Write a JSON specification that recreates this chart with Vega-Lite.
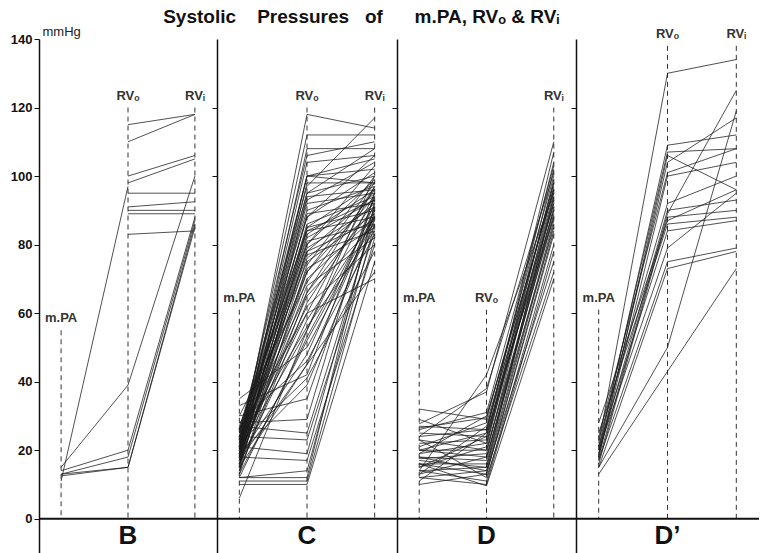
{
"$schema":"https://vega.github.io/schema/vega-lite/v6.json",
"background":"white",
"padding":{"left":10,"top":8,"right":0,"bottom":0},
"title":{"text":"Systolic\u00a0\u00a0\u00a0 Pressures\u00a0\u00a0 of\u00a0\u00a0\u00a0\u00a0\u00a0 m.PA, RV\u2092 & RV\u1d62","font":"Liberation Sans","fontSize":19,"fontWeight":"bold","color":"#111","anchor":"middle","offset":-2,"dx":-24},
"datasets":{
"guides":[
{"panel":"B","pos":"mPA","top":55,"label":"m.PA"},{"panel":"B","pos":"RVo","top":120,"label":"RV\u2092"},{"panel":"B","pos":"RVi","top":120,"label":"RV\u1d62"},
{"panel":"C","pos":"mPA","top":61,"label":"m.PA"},{"panel":"C","pos":"RVo","top":120,"label":"RV\u2092"},{"panel":"C","pos":"RVi","top":120,"label":"RV\u1d62"},
{"panel":"D","pos":"mPA","top":61,"label":"m.PA"},{"panel":"D","pos":"RVo","top":61,"label":"RV\u2092"},{"panel":"D","pos":"RVi","top":120,"label":"RV\u1d62"},
{"panel":"D'","pos":"mPA","top":61,"label":"m.PA"},{"panel":"D'","pos":"RVo","top":138,"label":"RV\u2092"},{"panel":"D'","pos":"RVi","top":138,"label":"RV\u1d62"}
],
"lines":[
{"panel":"B","id":"b1","pos":"RVo","value":115},{"panel":"B","id":"b1","pos":"RVi","value":118},
{"panel":"B","id":"b2","pos":"RVo","value":110},{"panel":"B","id":"b2","pos":"RVi","value":118},
{"panel":"B","id":"b3","pos":"RVo","value":100},{"panel":"B","id":"b3","pos":"RVi","value":106},
{"panel":"B","id":"b4","pos":"RVo","value":98},{"panel":"B","id":"b4","pos":"RVi","value":105},
{"panel":"B","id":"b5","pos":"mPA","value":11},{"panel":"B","id":"b5","pos":"RVo","value":97},
{"panel":"B","id":"b6","pos":"RVo","value":95},{"panel":"B","id":"b6","pos":"RVi","value":95},
{"panel":"B","id":"b7","pos":"RVo","value":91},{"panel":"B","id":"b7","pos":"RVi","value":92.5},
{"panel":"B","id":"b8","pos":"RVo","value":90},{"panel":"B","id":"b8","pos":"RVi","value":90},
{"panel":"B","id":"b9","pos":"RVo","value":89},{"panel":"B","id":"b9","pos":"RVi","value":89},
{"panel":"B","id":"b10","pos":"RVo","value":83},{"panel":"B","id":"b10","pos":"RVi","value":84},
{"panel":"B","id":"b11","pos":"mPA","value":15},{"panel":"B","id":"b11","pos":"RVo","value":39},{"panel":"B","id":"b11","pos":"RVi","value":100},
{"panel":"B","id":"b12","pos":"mPA","value":14},{"panel":"B","id":"b12","pos":"RVo","value":20},{"panel":"B","id":"b12","pos":"RVi","value":88},
{"panel":"B","id":"b13","pos":"mPA","value":13},{"panel":"B","id":"b13","pos":"RVo","value":18},{"panel":"B","id":"b13","pos":"RVi","value":87},
{"panel":"B","id":"b14","pos":"mPA","value":13},{"panel":"B","id":"b14","pos":"RVo","value":15},{"panel":"B","id":"b14","pos":"RVi","value":86},
{"panel":"B","id":"b15","pos":"mPA","value":12.5},{"panel":"B","id":"b15","pos":"RVo","value":15},{"panel":"B","id":"b15","pos":"RVi","value":85},

{"panel":"C","id":"c1","pos":"mPA","value":20},{"panel":"C","id":"c1","pos":"RVo","value":118},{"panel":"C","id":"c1","pos":"RVi","value":114},
{"panel":"C","id":"c2","pos":"mPA","value":22},{"panel":"C","id":"c2","pos":"RVo","value":112},{"panel":"C","id":"c2","pos":"RVi","value":112},
{"panel":"C","id":"c3","pos":"mPA","value":19},{"panel":"C","id":"c3","pos":"RVo","value":108},{"panel":"C","id":"c3","pos":"RVi","value":108},
{"panel":"C","id":"c4","pos":"mPA","value":24},{"panel":"C","id":"c4","pos":"RVo","value":106},{"panel":"C","id":"c4","pos":"RVi","value":110},
{"panel":"C","id":"c5","pos":"mPA","value":21},{"panel":"C","id":"c5","pos":"RVo","value":104},{"panel":"C","id":"c5","pos":"RVi","value":106},
{"panel":"C","id":"c6","pos":"mPA","value":18},{"panel":"C","id":"c6","pos":"RVo","value":100},{"panel":"C","id":"c6","pos":"RVi","value":102},
{"panel":"C","id":"c7","pos":"mPA","value":23},{"panel":"C","id":"c7","pos":"RVo","value":100},{"panel":"C","id":"c7","pos":"RVi","value":98},
{"panel":"C","id":"c8","pos":"mPA","value":17},{"panel":"C","id":"c8","pos":"RVo","value":98},{"panel":"C","id":"c8","pos":"RVi","value":98},
{"panel":"C","id":"c9","pos":"mPA","value":26},{"panel":"C","id":"c9","pos":"RVo","value":97},{"panel":"C","id":"c9","pos":"RVi","value":117},
{"panel":"C","id":"c10","pos":"mPA","value":20},{"panel":"C","id":"c10","pos":"RVo","value":95},{"panel":"C","id":"c10","pos":"RVi","value":100},
{"panel":"C","id":"c11","pos":"mPA","value":15},{"panel":"C","id":"c11","pos":"RVo","value":94},{"panel":"C","id":"c11","pos":"RVi","value":96},
{"panel":"C","id":"c12","pos":"mPA","value":22},{"panel":"C","id":"c12","pos":"RVo","value":93},{"panel":"C","id":"c12","pos":"RVi","value":104},
{"panel":"C","id":"c13","pos":"mPA","value":19},{"panel":"C","id":"c13","pos":"RVo","value":92},{"panel":"C","id":"c13","pos":"RVi","value":95},
{"panel":"C","id":"c14","pos":"mPA","value":25},{"panel":"C","id":"c14","pos":"RVo","value":90},{"panel":"C","id":"c14","pos":"RVi","value":97},
{"panel":"C","id":"c15","pos":"mPA","value":16},{"panel":"C","id":"c15","pos":"RVo","value":89},{"panel":"C","id":"c15","pos":"RVi","value":92},
{"panel":"C","id":"c16","pos":"mPA","value":21},{"panel":"C","id":"c16","pos":"RVo","value":88},{"panel":"C","id":"c16","pos":"RVi","value":101},
{"panel":"C","id":"c17","pos":"mPA","value":18},{"panel":"C","id":"c17","pos":"RVo","value":86},{"panel":"C","id":"c17","pos":"RVi","value":94},
{"panel":"C","id":"c18","pos":"mPA","value":24},{"panel":"C","id":"c18","pos":"RVo","value":85},{"panel":"C","id":"c18","pos":"RVi","value":90},
{"panel":"C","id":"c19","pos":"mPA","value":14},{"panel":"C","id":"c19","pos":"RVo","value":85},{"panel":"C","id":"c19","pos":"RVi","value":98},
{"panel":"C","id":"c20","pos":"mPA","value":20},{"panel":"C","id":"c20","pos":"RVo","value":84},{"panel":"C","id":"c20","pos":"RVi","value":88},
{"panel":"C","id":"c21","pos":"mPA","value":17},{"panel":"C","id":"c21","pos":"RVo","value":83},{"panel":"C","id":"c21","pos":"RVi","value":96},
{"panel":"C","id":"c22","pos":"mPA","value":22},{"panel":"C","id":"c22","pos":"RVo","value":82},{"panel":"C","id":"c22","pos":"RVi","value":93},
{"panel":"C","id":"c23","pos":"mPA","value":19},{"panel":"C","id":"c23","pos":"RVo","value":81},{"panel":"C","id":"c23","pos":"RVi","value":86},
{"panel":"C","id":"c24","pos":"mPA","value":27},{"panel":"C","id":"c24","pos":"RVo","value":80},{"panel":"C","id":"c24","pos":"RVi","value":99},
{"panel":"C","id":"c25","pos":"mPA","value":15},{"panel":"C","id":"c25","pos":"RVo","value":79},{"panel":"C","id":"c25","pos":"RVi","value":91},
{"panel":"C","id":"c26","pos":"mPA","value":23},{"panel":"C","id":"c26","pos":"RVo","value":78},{"panel":"C","id":"c26","pos":"RVi","value":87},
{"panel":"C","id":"c27","pos":"mPA","value":18},{"panel":"C","id":"c27","pos":"RVo","value":78},{"panel":"C","id":"c27","pos":"RVi","value":95},
{"panel":"C","id":"c28","pos":"mPA","value":21},{"panel":"C","id":"c28","pos":"RVo","value":77},{"panel":"C","id":"c28","pos":"RVi","value":84},
{"panel":"C","id":"c29","pos":"mPA","value":16},{"panel":"C","id":"c29","pos":"RVo","value":76},{"panel":"C","id":"c29","pos":"RVi","value":92},
{"panel":"C","id":"c30","pos":"mPA","value":25},{"panel":"C","id":"c30","pos":"RVo","value":75},{"panel":"C","id":"c30","pos":"RVi","value":89},
{"panel":"C","id":"c31","pos":"mPA","value":13},{"panel":"C","id":"c31","pos":"RVo","value":74},{"panel":"C","id":"c31","pos":"RVi","value":100},
{"panel":"C","id":"c32","pos":"mPA","value":20},{"panel":"C","id":"c32","pos":"RVo","value":73},{"panel":"C","id":"c32","pos":"RVi","value":85},
{"panel":"C","id":"c33","pos":"mPA","value":22},{"panel":"C","id":"c33","pos":"RVo","value":72},{"panel":"C","id":"c33","pos":"RVi","value":94},
{"panel":"C","id":"c34","pos":"mPA","value":18},{"panel":"C","id":"c34","pos":"RVo","value":70},{"panel":"C","id":"c34","pos":"RVi","value":88},
{"panel":"C","id":"c35","pos":"mPA","value":30},{"panel":"C","id":"c35","pos":"RVo","value":69},{"panel":"C","id":"c35","pos":"RVi","value":96},
{"panel":"C","id":"c36","pos":"mPA","value":17},{"panel":"C","id":"c36","pos":"RVo","value":68},{"panel":"C","id":"c36","pos":"RVi","value":82},
{"panel":"C","id":"c37","pos":"mPA","value":24},{"panel":"C","id":"c37","pos":"RVo","value":66},{"panel":"C","id":"c37","pos":"RVi","value":91},
{"panel":"C","id":"c38","pos":"mPA","value":19},{"panel":"C","id":"c38","pos":"RVo","value":65},{"panel":"C","id":"c38","pos":"RVi","value":86},
{"panel":"C","id":"c39","pos":"mPA","value":14},{"panel":"C","id":"c39","pos":"RVo","value":63},{"panel":"C","id":"c39","pos":"RVi","value":93},
{"panel":"C","id":"c40","pos":"mPA","value":21},{"panel":"C","id":"c40","pos":"RVo","value":62},{"panel":"C","id":"c40","pos":"RVi","value":80},
{"panel":"C","id":"c41","pos":"mPA","value":26},{"panel":"C","id":"c41","pos":"RVo","value":60},{"panel":"C","id":"c41","pos":"RVi","value":97},
{"panel":"C","id":"c42","pos":"mPA","value":16},{"panel":"C","id":"c42","pos":"RVo","value":58},{"panel":"C","id":"c42","pos":"RVi","value":88},
{"panel":"C","id":"c43","pos":"mPA","value":23},{"panel":"C","id":"c43","pos":"RVo","value":56},{"panel":"C","id":"c43","pos":"RVi","value":84},
{"panel":"C","id":"c44","pos":"mPA","value":20},{"panel":"C","id":"c44","pos":"RVo","value":55},{"panel":"C","id":"c44","pos":"RVi","value":95},
{"panel":"C","id":"c45","pos":"mPA","value":12},{"panel":"C","id":"c45","pos":"RVo","value":53},{"panel":"C","id":"c45","pos":"RVi","value":90},
{"panel":"C","id":"c46","pos":"mPA","value":35},{"panel":"C","id":"c46","pos":"RVo","value":50},{"panel":"C","id":"c46","pos":"RVi","value":87},
{"panel":"C","id":"c47","pos":"mPA","value":18},{"panel":"C","id":"c47","pos":"RVo","value":48},{"panel":"C","id":"c47","pos":"RVi","value":92},
{"panel":"C","id":"c48","pos":"mPA","value":28},{"panel":"C","id":"c48","pos":"RVo","value":46},{"panel":"C","id":"c48","pos":"RVi","value":83},
{"panel":"C","id":"c49","pos":"mPA","value":15},{"panel":"C","id":"c49","pos":"RVo","value":45},{"panel":"C","id":"c49","pos":"RVi","value":89},
{"panel":"C","id":"c50","pos":"mPA","value":33},{"panel":"C","id":"c50","pos":"RVo","value":42},{"panel":"C","id":"c50","pos":"RVi","value":94},
{"panel":"C","id":"c51","pos":"mPA","value":22},{"panel":"C","id":"c51","pos":"RVo","value":41},{"panel":"C","id":"c51","pos":"RVi","value":78},
{"panel":"C","id":"c52","pos":"mPA","value":19},{"panel":"C","id":"c52","pos":"RVo","value":39},{"panel":"C","id":"c52","pos":"RVi","value":86},
{"panel":"C","id":"c53","pos":"mPA","value":30},{"panel":"C","id":"c53","pos":"RVo","value":35},{"panel":"C","id":"c53","pos":"RVi","value":91},
{"panel":"C","id":"c54","pos":"mPA","value":28},{"panel":"C","id":"c54","pos":"RVo","value":29},{"panel":"C","id":"c54","pos":"RVi","value":95},
{"panel":"C","id":"c55","pos":"mPA","value":27},{"panel":"C","id":"c55","pos":"RVo","value":25},{"panel":"C","id":"c55","pos":"RVi","value":88},
{"panel":"C","id":"c56","pos":"mPA","value":24},{"panel":"C","id":"c56","pos":"RVo","value":23},{"panel":"C","id":"c56","pos":"RVi","value":84},
{"panel":"C","id":"c57","pos":"mPA","value":21},{"panel":"C","id":"c57","pos":"RVo","value":19},{"panel":"C","id":"c57","pos":"RVi","value":90},
{"panel":"C","id":"c58","pos":"mPA","value":18},{"panel":"C","id":"c58","pos":"RVo","value":17},{"panel":"C","id":"c58","pos":"RVi","value":80},
{"panel":"C","id":"c59","pos":"mPA","value":12},{"panel":"C","id":"c59","pos":"RVo","value":14},{"panel":"C","id":"c59","pos":"RVi","value":86},
{"panel":"C","id":"c60","pos":"mPA","value":12},{"panel":"C","id":"c60","pos":"RVo","value":12},{"panel":"C","id":"c60","pos":"RVi","value":92},
{"panel":"C","id":"c61","pos":"mPA","value":11},{"panel":"C","id":"c61","pos":"RVo","value":11},{"panel":"C","id":"c61","pos":"RVi","value":82},
{"panel":"C","id":"c62","pos":"mPA","value":10},{"panel":"C","id":"c62","pos":"RVo","value":10},{"panel":"C","id":"c62","pos":"RVi","value":75},
{"panel":"C","id":"c63","pos":"mPA","value":6},{"panel":"C","id":"c63","pos":"RVo","value":55},{"panel":"C","id":"c63","pos":"RVi","value":100},
{"panel":"C","id":"c64","pos":"mPA","value":20},{"panel":"C","id":"c64","pos":"RVo","value":60},{"panel":"C","id":"c64","pos":"RVi","value":70},
{"panel":"C","id":"c65","pos":"mPA","value":17},{"panel":"C","id":"c65","pos":"RVo","value":45},{"panel":"C","id":"c65","pos":"RVi","value":72},
{"panel":"C","id":"c66","pos":"mPA","value":23},{"panel":"C","id":"c66","pos":"RVo","value":88},{"panel":"C","id":"c66","pos":"RVi","value":106},
{"panel":"C","id":"c67","pos":"mPA","value":19},{"panel":"C","id":"c67","pos":"RVo","value":80},{"panel":"C","id":"c67","pos":"RVi","value":103},
{"panel":"C","id":"c68","pos":"mPA","value":25},{"panel":"C","id":"c68","pos":"RVo","value":95},{"panel":"C","id":"c68","pos":"RVi","value":108},
{"panel":"C","id":"c69","pos":"mPA","value":16},{"panel":"C","id":"c69","pos":"RVo","value":72},{"panel":"C","id":"c69","pos":"RVi","value":98},
{"panel":"C","id":"c70","pos":"mPA","value":21},{"panel":"C","id":"c70","pos":"RVo","value":100},{"panel":"C","id":"c70","pos":"RVi","value":105},
{"panel":"C","id":"c71","pos":"mPA","value":14},{"panel":"C","id":"c71","pos":"RVo","value":66},{"panel":"C","id":"c71","pos":"RVi","value":97},
{"panel":"C","id":"c72","pos":"mPA","value":26},{"panel":"C","id":"c72","pos":"RVo","value":84},{"panel":"C","id":"c72","pos":"RVi","value":93},
{"panel":"C","id":"c73","pos":"mPA","value":13},{"panel":"C","id":"c73","pos":"RVo","value":52},{"panel":"C","id":"c73","pos":"RVi","value":88},

{"panel":"D","id":"d1","pos":"mPA","value":32},{"panel":"D","id":"d1","pos":"RVo","value":29},{"panel":"D","id":"d1","pos":"RVi","value":100},
{"panel":"D","id":"d2","pos":"mPA","value":26.5},{"panel":"D","id":"d2","pos":"RVo","value":29.5},{"panel":"D","id":"d2","pos":"RVi","value":96},
{"panel":"D","id":"d3","pos":"mPA","value":27},{"panel":"D","id":"d3","pos":"RVo","value":26},{"panel":"D","id":"d3","pos":"RVi","value":104},
{"panel":"D","id":"d4","pos":"mPA","value":25},{"panel":"D","id":"d4","pos":"RVo","value":24},{"panel":"D","id":"d4","pos":"RVi","value":92},
{"panel":"D","id":"d5","pos":"mPA","value":24},{"panel":"D","id":"d5","pos":"RVo","value":26},{"panel":"D","id":"d5","pos":"RVi","value":98},
{"panel":"D","id":"d6","pos":"mPA","value":23},{"panel":"D","id":"d6","pos":"RVo","value":20},{"panel":"D","id":"d6","pos":"RVi","value":88},
{"panel":"D","id":"d7","pos":"mPA","value":22},{"panel":"D","id":"d7","pos":"RVo","value":23},{"panel":"D","id":"d7","pos":"RVi","value":95},
{"panel":"D","id":"d8","pos":"mPA","value":20},{"panel":"D","id":"d8","pos":"RVo","value":20},{"panel":"D","id":"d8","pos":"RVi","value":90},
{"panel":"D","id":"d9","pos":"mPA","value":20},{"panel":"D","id":"d9","pos":"RVo","value":18},{"panel":"D","id":"d9","pos":"RVi","value":85},
{"panel":"D","id":"d10","pos":"mPA","value":19},{"panel":"D","id":"d10","pos":"RVo","value":22},{"panel":"D","id":"d10","pos":"RVi","value":102},
{"panel":"D","id":"d11","pos":"mPA","value":18},{"panel":"D","id":"d11","pos":"RVo","value":17},{"panel":"D","id":"d11","pos":"RVi","value":93},
{"panel":"D","id":"d12","pos":"mPA","value":17.5},{"panel":"D","id":"d12","pos":"RVo","value":19},{"panel":"D","id":"d12","pos":"RVi","value":97},
{"panel":"D","id":"d13","pos":"mPA","value":17},{"panel":"D","id":"d13","pos":"RVo","value":15},{"panel":"D","id":"d13","pos":"RVi","value":87},
{"panel":"D","id":"d14","pos":"mPA","value":16},{"panel":"D","id":"d14","pos":"RVo","value":16},{"panel":"D","id":"d14","pos":"RVi","value":91},
{"panel":"D","id":"d15","pos":"mPA","value":16},{"panel":"D","id":"d15","pos":"RVo","value":13},{"panel":"D","id":"d15","pos":"RVi","value":83},
{"panel":"D","id":"d16","pos":"mPA","value":15},{"panel":"D","id":"d16","pos":"RVo","value":21},{"panel":"D","id":"d16","pos":"RVi","value":99},
{"panel":"D","id":"d17","pos":"mPA","value":14},{"panel":"D","id":"d17","pos":"RVo","value":15},{"panel":"D","id":"d17","pos":"RVi","value":94},
{"panel":"D","id":"d18","pos":"mPA","value":14},{"panel":"D","id":"d18","pos":"RVo","value":11},{"panel":"D","id":"d18","pos":"RVi","value":80},
{"panel":"D","id":"d19","pos":"mPA","value":13},{"panel":"D","id":"d19","pos":"RVo","value":18},{"panel":"D","id":"d19","pos":"RVi","value":89},
{"panel":"D","id":"d20","pos":"mPA","value":12},{"panel":"D","id":"d20","pos":"RVo","value":14},{"panel":"D","id":"d20","pos":"RVi","value":86},
{"panel":"D","id":"d21","pos":"mPA","value":12},{"panel":"D","id":"d21","pos":"RVo","value":10},{"panel":"D","id":"d21","pos":"RVi","value":78},
{"panel":"D","id":"d22","pos":"mPA","value":10},{"panel":"D","id":"d22","pos":"RVo","value":13},{"panel":"D","id":"d22","pos":"RVi","value":84},
{"panel":"D","id":"d23","pos":"mPA","value":11},{"panel":"D","id":"d23","pos":"RVo","value":25},{"panel":"D","id":"d23","pos":"RVi","value":107},
{"panel":"D","id":"d24","pos":"mPA","value":27.7},{"panel":"D","id":"d24","pos":"RVo","value":37},{"panel":"D","id":"d24","pos":"RVi","value":110},
{"panel":"D","id":"d25","pos":"mPA","value":24},{"panel":"D","id":"d25","pos":"RVo","value":38},{"panel":"D","id":"d25","pos":"RVi","value":101},
{"panel":"D","id":"d26","pos":"mPA","value":14},{"panel":"D","id":"d26","pos":"RVo","value":42},{"panel":"D","id":"d26","pos":"RVi","value":95},
{"panel":"D","id":"d27","pos":"mPA","value":19},{"panel":"D","id":"d27","pos":"RVo","value":30},{"panel":"D","id":"d27","pos":"RVi","value":96},
{"panel":"D","id":"d28","pos":"mPA","value":21},{"panel":"D","id":"d28","pos":"RVo","value":28},{"panel":"D","id":"d28","pos":"RVi","value":92},
{"panel":"D","id":"d29","pos":"mPA","value":13},{"panel":"D","id":"d29","pos":"RVo","value":27},{"panel":"D","id":"d29","pos":"RVi","value":88},
{"panel":"D","id":"d30","pos":"mPA","value":23},{"panel":"D","id":"d30","pos":"RVo","value":12},{"panel":"D","id":"d30","pos":"RVi","value":72},
{"panel":"D","id":"d31","pos":"mPA","value":18},{"panel":"D","id":"d31","pos":"RVo","value":14},{"panel":"D","id":"d31","pos":"RVi","value":75},
{"panel":"D","id":"d32","pos":"mPA","value":15},{"panel":"D","id":"d32","pos":"RVo","value":24},{"panel":"D","id":"d32","pos":"RVi","value":98},
{"panel":"D","id":"d33","pos":"mPA","value":26},{"panel":"D","id":"d33","pos":"RVo","value":31},{"panel":"D","id":"d33","pos":"RVi","value":103},
{"panel":"D","id":"d34","pos":"mPA","value":20},{"panel":"D","id":"d34","pos":"RVo","value":25},{"panel":"D","id":"d34","pos":"RVi","value":90},
{"panel":"D","id":"d35","pos":"mPA","value":29},{"panel":"D","id":"d35","pos":"RVo","value":22},{"panel":"D","id":"d35","pos":"RVi","value":94},
{"panel":"D","id":"d36","pos":"mPA","value":16},{"panel":"D","id":"d36","pos":"RVo","value":9.6},{"panel":"D","id":"d36","pos":"RVi","value":70},

{"panel":"D'","id":"e1","pos":"mPA","value":22},{"panel":"D'","id":"e1","pos":"RVo","value":130},{"panel":"D'","id":"e1","pos":"RVi","value":134},
{"panel":"D'","id":"e2","pos":"mPA","value":20},{"panel":"D'","id":"e2","pos":"RVo","value":109},{"panel":"D'","id":"e2","pos":"RVi","value":112},
{"panel":"D'","id":"e3","pos":"mPA","value":21},{"panel":"D'","id":"e3","pos":"RVo","value":107},{"panel":"D'","id":"e3","pos":"RVi","value":108},
{"panel":"D'","id":"e4","pos":"mPA","value":19},{"panel":"D'","id":"e4","pos":"RVo","value":104},{"panel":"D'","id":"e4","pos":"RVi","value":117},
{"panel":"D'","id":"e5","pos":"mPA","value":18},{"panel":"D'","id":"e5","pos":"RVo","value":100},{"panel":"D'","id":"e5","pos":"RVi","value":104},
{"panel":"D'","id":"e6","pos":"mPA","value":24},{"panel":"D'","id":"e6","pos":"RVo","value":101},{"panel":"D'","id":"e6","pos":"RVi","value":108},
{"panel":"D'","id":"e7","pos":"mPA","value":17},{"panel":"D'","id":"e7","pos":"RVo","value":89},{"panel":"D'","id":"e7","pos":"RVi","value":125},
{"panel":"D'","id":"e8","pos":"mPA","value":19},{"panel":"D'","id":"e8","pos":"RVo","value":90},{"panel":"D'","id":"e8","pos":"RVi","value":93},
{"panel":"D'","id":"e9","pos":"mPA","value":16},{"panel":"D'","id":"e9","pos":"RVo","value":88},{"panel":"D'","id":"e9","pos":"RVi","value":90},
{"panel":"D'","id":"e10","pos":"mPA","value":28},{"panel":"D'","id":"e10","pos":"RVo","value":87},{"panel":"D'","id":"e10","pos":"RVi","value":96},
{"panel":"D'","id":"e11","pos":"mPA","value":21},{"panel":"D'","id":"e11","pos":"RVo","value":84},{"panel":"D'","id":"e11","pos":"RVi","value":87},
{"panel":"D'","id":"e12","pos":"mPA","value":20},{"panel":"D'","id":"e12","pos":"RVo","value":79},{"panel":"D'","id":"e12","pos":"RVi","value":95},
{"panel":"D'","id":"e13","pos":"mPA","value":17},{"panel":"D'","id":"e13","pos":"RVo","value":75},{"panel":"D'","id":"e13","pos":"RVi","value":79},
{"panel":"D'","id":"e14","pos":"mPA","value":15},{"panel":"D'","id":"e14","pos":"RVo","value":73},{"panel":"D'","id":"e14","pos":"RVi","value":78},
{"panel":"D'","id":"e15","pos":"mPA","value":15},{"panel":"D'","id":"e15","pos":"RVo","value":50},{"panel":"D'","id":"e15","pos":"RVi","value":119},
{"panel":"D'","id":"e16","pos":"mPA","value":13},{"panel":"D'","id":"e16","pos":"RVo","value":43},{"panel":"D'","id":"e16","pos":"RVi","value":73},
{"panel":"D'","id":"e17","pos":"mPA","value":23},{"panel":"D'","id":"e17","pos":"RVo","value":92},{"panel":"D'","id":"e17","pos":"RVi","value":100},
{"panel":"D'","id":"e18","pos":"mPA","value":25},{"panel":"D'","id":"e18","pos":"RVo","value":86},{"panel":"D'","id":"e18","pos":"RVi","value":88},
{"panel":"D'","id":"e19","pos":"mPA","value":18},{"panel":"D'","id":"e19","pos":"RVo","value":106},{"panel":"D'","id":"e19","pos":"RVi","value":96}
]
},
"config":{"view":{"stroke":null},"axis":{"grid":false},"text":{"font":"Liberation Sans"}},
"spacing":0,
"bounds":"flush",
"hconcat":[
{"width":178,"height":514,
 "layer":[
  {"data":{"name":"guides"},"transform":[{"filter":"datum.panel === 'B'"}],"mark":{"type":"rule","strokeDash":[5,4],"stroke":"#333","strokeWidth":1},
   "encoding":{"x":{"field":"pos","type":"ordinal","scale":{"type":"point","domain":["mPA","RVo","RVi"],"padding":0.33},"axis":null},"y":{"field":"top","type":"quantitative","scale":{"domain":[-10,140],"nice":false}},"y2":{"datum":0}}},
  {"data":{"name":"guides"},"transform":[{"filter":"datum.panel === 'B'"}],"mark":{"type":"text","dy":-12,"fontSize":13,"fontWeight":"bold","color":"#333"},
   "encoding":{"x":{"field":"pos","type":"ordinal"},"y":{"field":"top","type":"quantitative"},"text":{"field":"label"}}},
  {"data":{"name":"lines"},"transform":[{"filter":"datum.panel === 'B'"}],"mark":{"type":"line","stroke":"#1a1a1a","strokeWidth":0.9,"opacity":0.85},
   "encoding":{"x":{"field":"pos","type":"ordinal"},"y":{"field":"value","type":"quantitative","scale":{"domain":[-10,140],"nice":false},
     "axis":{"values":[0,20,40,60,80,100,120,140],"title":"mmHg","titleAngle":0,"titleAlign":"left","titleBaseline":"bottom","titleX":3,"titleY":-1,"titleFont":"Liberation Sans","titleFontSize":13,"titleFontWeight":"normal","titleColor":"#222","labelFont":"Liberation Sans","labelFontSize":13,"labelFontWeight":"bold","labelColor":"#111","tickSize":5,"tickColor":"#111","domainColor":"#111","domainWidth":1.5}},
     "detail":{"field":"id"}}},
  {"data":{"values":[{}]},"mark":{"type":"rule","stroke":"#111","strokeWidth":2},"encoding":{"y":{"datum":0}}},
  {"data":{"values":[{}]},"mark":{"type":"text","fontSize":26,"fontWeight":"bold","color":"#111"},"encoding":{"x":{"datum":"RVo"},"y":{"datum":-5},"text":{"value":"B"}}}
 ]},
{"width":180,"height":514,
 "layer":[
  {"data":{"name":"guides"},"transform":[{"filter":"datum.panel === 'C'"}],"mark":{"type":"rule","strokeDash":[5,4],"stroke":"#333","strokeWidth":1},
   "encoding":{"x":{"field":"pos","type":"ordinal","scale":{"type":"point","domain":["mPA","RVo","RVi"],"padding":0.33},"axis":null},"y":{"field":"top","type":"quantitative","scale":{"domain":[-10,140],"nice":false}},"y2":{"datum":0}}},
  {"data":{"name":"guides"},"transform":[{"filter":"datum.panel === 'C'"}],"mark":{"type":"text","dy":-12,"fontSize":13,"fontWeight":"bold","color":"#333"},
   "encoding":{"x":{"field":"pos","type":"ordinal"},"y":{"field":"top","type":"quantitative"},"text":{"field":"label"}}},
  {"data":{"name":"lines"},"transform":[{"filter":"datum.panel === 'C'"}],"mark":{"type":"line","stroke":"#1a1a1a","strokeWidth":0.9,"opacity":0.85},
   "encoding":{"x":{"field":"pos","type":"ordinal"},"y":{"field":"value","type":"quantitative","scale":{"domain":[-10,140],"nice":false},
     "axis":{"values":[20,40,60,80,100,120],"title":null,"labels":false,"tickSize":5,"tickColor":"#111","domainColor":"#111","domainWidth":1.5}},
     "detail":{"field":"id"}}},
  {"data":{"values":[{}]},"mark":{"type":"rule","stroke":"#111","strokeWidth":2},"encoding":{"y":{"datum":0}}},
  {"data":{"values":[{}]},"mark":{"type":"text","fontSize":26,"fontWeight":"bold","color":"#111"},"encoding":{"x":{"datum":"RVo"},"y":{"datum":-5},"text":{"value":"C"}}}
 ]},
{"width":179,"height":514,
 "layer":[
  {"data":{"name":"guides"},"transform":[{"filter":"datum.panel === 'D'"}],"mark":{"type":"rule","strokeDash":[5,4],"stroke":"#333","strokeWidth":1},
   "encoding":{"x":{"field":"pos","type":"ordinal","scale":{"type":"point","domain":["mPA","RVo","RVi"],"padding":0.33},"axis":null},"y":{"field":"top","type":"quantitative","scale":{"domain":[-10,140],"nice":false}},"y2":{"datum":0}}},
  {"data":{"name":"guides"},"transform":[{"filter":"datum.panel === 'D'"}],"mark":{"type":"text","dy":-12,"fontSize":13,"fontWeight":"bold","color":"#333"},
   "encoding":{"x":{"field":"pos","type":"ordinal"},"y":{"field":"top","type":"quantitative"},"text":{"field":"label"}}},
  {"data":{"name":"lines"},"transform":[{"filter":"datum.panel === 'D'"}],"mark":{"type":"line","stroke":"#1a1a1a","strokeWidth":0.9,"opacity":0.85},
   "encoding":{"x":{"field":"pos","type":"ordinal"},"y":{"field":"value","type":"quantitative","scale":{"domain":[-10,140],"nice":false},
     "axis":{"values":[20,40,60,80,100,120],"title":null,"labels":false,"tickSize":5,"tickColor":"#111","domainColor":"#111","domainWidth":1.5}},
     "detail":{"field":"id"}}},
  {"data":{"values":[{}]},"mark":{"type":"rule","stroke":"#111","strokeWidth":2},"encoding":{"y":{"datum":0}}},
  {"data":{"values":[{}]},"mark":{"type":"text","fontSize":26,"fontWeight":"bold","color":"#111"},"encoding":{"x":{"datum":"RVo"},"y":{"datum":-5},"text":{"value":"D"}}}
 ]},
{"width":183,"height":514,
 "layer":[
  {"data":{"name":"guides"},"transform":[{"filter":"datum.panel === \"D'\""}],"mark":{"type":"rule","strokeDash":[5,4],"stroke":"#333","strokeWidth":1},
   "encoding":{"x":{"field":"pos","type":"ordinal","scale":{"type":"point","domain":["mPA","RVo","RVi"],"padding":0.33},"axis":null},"y":{"field":"top","type":"quantitative","scale":{"domain":[-10,140],"nice":false}},"y2":{"datum":0}}},
  {"data":{"name":"guides"},"transform":[{"filter":"datum.panel === \"D'\""}],"mark":{"type":"text","dy":-12,"fontSize":13,"fontWeight":"bold","color":"#333"},
   "encoding":{"x":{"field":"pos","type":"ordinal"},"y":{"field":"top","type":"quantitative"},"text":{"field":"label"}}},
  {"data":{"name":"lines"},"transform":[{"filter":"datum.panel === \"D'\""}],"mark":{"type":"line","stroke":"#1a1a1a","strokeWidth":0.9,"opacity":0.85},
   "encoding":{"x":{"field":"pos","type":"ordinal"},"y":{"field":"value","type":"quantitative","scale":{"domain":[-10,140],"nice":false},
     "axis":{"values":[20,40,60,80,100,120],"title":null,"labels":false,"tickSize":5,"tickColor":"#111","domainColor":"#111","domainWidth":1.5}},
     "detail":{"field":"id"}}},
  {"data":{"values":[{}]},"mark":{"type":"rule","stroke":"#111","strokeWidth":2},"encoding":{"y":{"datum":0}}},
  {"data":{"values":[{}]},"mark":{"type":"text","fontSize":26,"fontWeight":"bold","color":"#111"},"encoding":{"x":{"datum":"RVo"},"y":{"datum":-5},"text":{"value":"D\u2019"}}}
 ]}
]
}
